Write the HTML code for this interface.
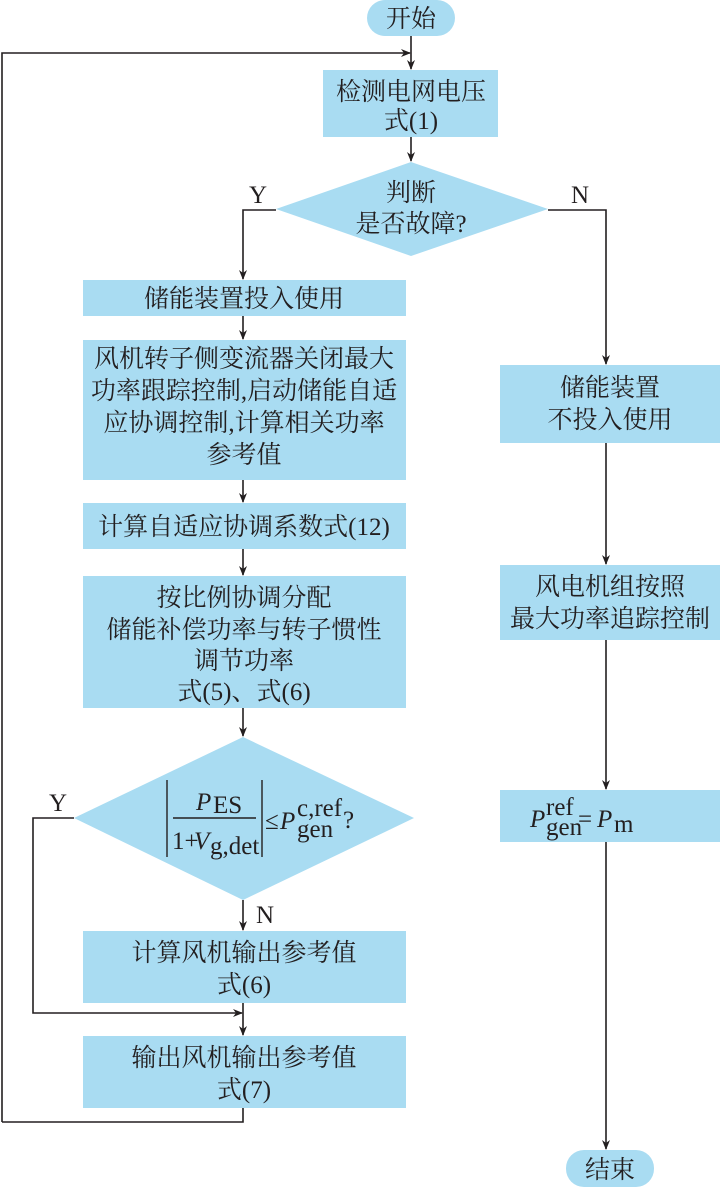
<!DOCTYPE html>
<html><head><meta charset="utf-8"><style>
html,body{margin:0;padding:0;background:#fff}
svg{display:block}
text{font-family:"Liberation Serif","Noto Serif CJK SC",serif;font-size:25px;fill:#231f20}
</style></head><body>
<svg width="720" height="1187" viewBox="0 0 720 1187" xmlns="http://www.w3.org/2000/svg">
<defs><marker id="a" markerWidth="10" markerHeight="10" refX="9" refY="5" orient="auto" markerUnits="userSpaceOnUse"><path d="M0,1 L10,5 L0,9 L3,5 Z" fill="#231f20"/></marker></defs>
<g fill="#a9dcf2">
<rect x="367" y="0" width="88" height="36" rx="18"/>
<rect x="323" y="70" width="175" height="67"/>
<polygon points="411,162 548,209 411,256 276,209"/>
<rect x="83" y="280" width="323" height="36"/>
<rect x="83" y="340" width="323" height="140"/>
<rect x="83" y="503" width="323" height="46"/>
<rect x="83" y="576" width="323" height="132"/>
<polygon points="243,737 414,818 243,900 74,818"/>
<rect x="83" y="931" width="323" height="72"/>
<rect x="83" y="1036" width="323" height="72"/>
<rect x="500" y="365" width="220" height="78"/>
<rect x="500" y="565" width="220" height="75"/>
<rect x="500" y="790" width="220" height="52"/>
<rect x="566" y="1150" width="88" height="37" rx="18"/>
</g>
<g stroke="#231f20" stroke-width="1.6" fill="none">
<path d="M411,36 V69" marker-end="url(#a)"/>
<path d="M2,1122 V53 H410" marker-end="url(#a)"/>
<path d="M411,137 V161" marker-end="url(#a)"/>
<path d="M276,210 H243 V279" marker-end="url(#a)"/>
<path d="M548,210 H606 V364" marker-end="url(#a)"/>
<path d="M243,316 V339" marker-end="url(#a)"/>
<path d="M243,480 V502" marker-end="url(#a)"/>
<path d="M243,549 V575" marker-end="url(#a)"/>
<path d="M243,708 V736" marker-end="url(#a)"/>
<path d="M243,900 V930" marker-end="url(#a)"/>
<path d="M74,818 H33 V1013 H242" marker-end="url(#a)"/>
<path d="M243,1003 V1035" marker-end="url(#a)"/>
<path d="M243,1108 V1122 H2"/>
<path d="M606,443 V564" marker-end="url(#a)"/>
<path d="M606,640 V789" marker-end="url(#a)"/>
<path d="M606,842 V1149" marker-end="url(#a)"/>
</g>
<g text-anchor="middle">
<text x="411" y="27">开始</text>
<text x="411" y="100">检测电网电压</text>
<text x="411" y="129">式(1)</text>
<text x="411" y="201">判断</text>
<text x="411" y="232">是否故障?</text>
<text x="258" y="203">Y</text>
<text x="580" y="203">N</text>
<text x="244" y="307">储能装置投入使用</text>
<text x="244" y="367">风机转子侧变流器关闭最大</text>
<text x="244" y="399">功率跟踪控制,启动储能自适</text>
<text x="244" y="431">应协调控制,计算相关功率</text>
<text x="244" y="463">参考值</text>
<text x="244" y="535">计算自适应协调系数式(12)</text>
<text x="244" y="606">按比例协调分配</text>
<text x="244" y="638">储能补偿功率与转子惯性</text>
<text x="244" y="669">调节功率</text>
<text x="244" y="700">式(5)、式(6)</text>
<text x="58" y="811">Y</text>
<text x="265" y="923">N</text>
<text x="244" y="961">计算风机输出参考值</text>
<text x="244" y="993">式(6)</text>
<text x="244" y="1066">输出风机输出参考值</text>
<text x="244" y="1098">式(7)</text>
<text x="610" y="396">储能装置</text>
<text x="610" y="428">不投入使用</text>
<text x="610" y="595">风电机组按照</text>
<text x="610" y="627">最大功率追踪控制</text>
<text x="610" y="1178">结束</text>
</g>
<g stroke="#231f20" stroke-width="1.4">
<line x1="167" y1="780" x2="167" y2="857"/>
<line x1="262" y1="780" x2="262" y2="857"/>
<line x1="173" y1="818" x2="256" y2="818"/>
</g>
<text x="196" y="810" font-style="italic">P</text><text x="213" y="813" font-size="17">ES</text>
<text x="172" y="849">1+</text><text x="194" y="849" font-style="italic">V</text><text x="210" y="854" font-size="17">g,det</text>
<text x="265" y="829">≤</text><text x="280" y="829" font-style="italic">P</text>
<text x="297" y="816" font-size="17">c,ref</text><text x="297" y="837" font-size="17">gen</text>
<text x="343" y="828" font-size="19">?</text>
<text x="530" y="827" font-style="italic">P</text>
<text x="546" y="815" font-size="17">ref</text><text x="546" y="835" font-size="17">gen</text>
<text x="578" y="827">=</text><text x="597" y="827" font-style="italic">P</text><text x="614" y="832" font-size="17">m</text>
</svg>
</body></html>
